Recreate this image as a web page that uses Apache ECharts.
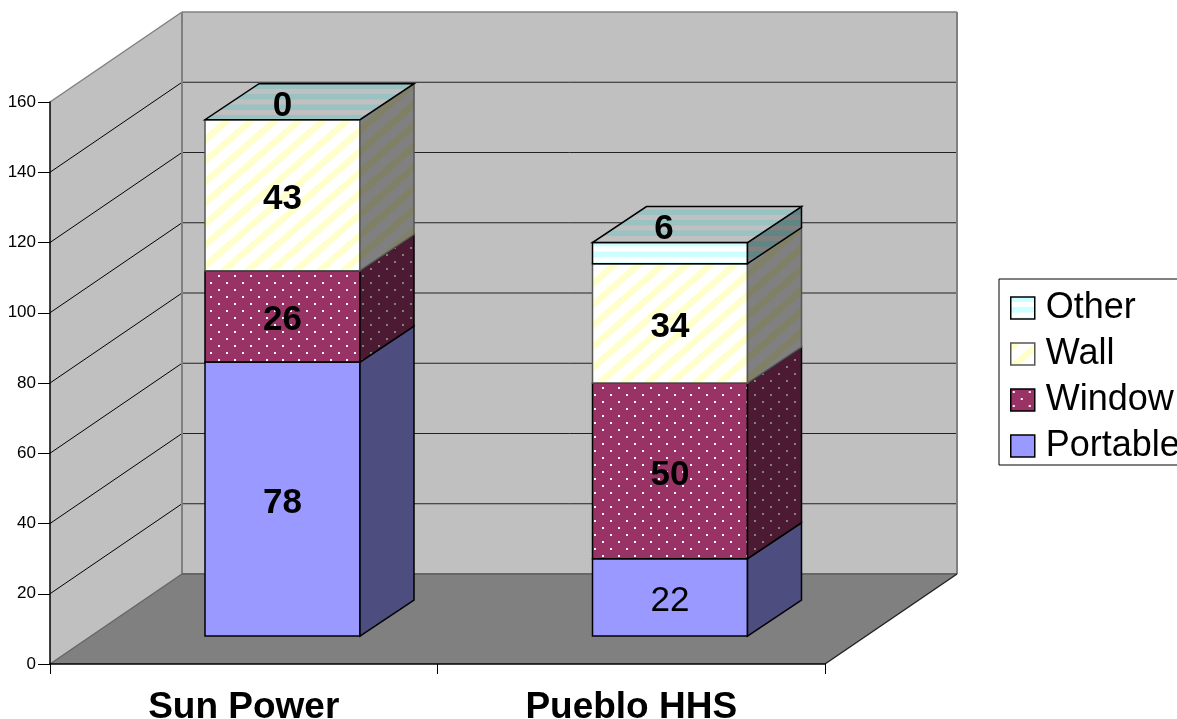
<!DOCTYPE html>
<html>
<head>
<meta charset="utf-8">
<script src="https://cdn.jsdelivr.net/npm/echarts@6/dist/echarts.min.js"></script>
<style>
  html, body { margin: 0; padding: 0; background: #fff; overflow: hidden; }
  #chart { width: 1177px; height: 719px; }
</style>
</head>
<body>
<div id="chart"></div>
<script>
// Survey counts per site, stacked from the floor upward.
const categories = ['Sun Power', 'Pueblo HHS'];
const portable = [78, 22];
const windowUnits = [26, 50];
const wall = [43, 34];
const other = [0, 6];
const legendOrder = ['Other', 'Wall', 'Window', 'Portable'];
const yMax = 160;
const yStep = 20;

// Oblique projection of the chart box and of each column inside it (pixels).
const BOX = { dx: 132, dy: -90 };
const BAR = { frontDx: 38.75, frontDy: -28, sideDx: 54, sideDy: -36, widthRatio: 0.4 };
const FONT = '"Liberation Sans", Arial, sans-serif';

function tile(w, h, paint) {
  const c = document.createElement('canvas');
  c.width = w; c.height = h;
  paint(c.getContext('2d'), w, h);
  return { image: c, repeat: 'repeat' };
}
function dots(bg, dot) {
  return tile(16, 14, (g, w, h) => {
    g.fillStyle = bg; g.fillRect(0, 0, w, h);
    g.fillStyle = dot;
    g.fillRect(2, 2, 2, 2);
    g.fillRect(10, 9, 2, 2);
  });
}
function diagonal(bg, stripe) {
  return tile(24, 21, (g, w, h) => {
    g.fillStyle = bg; g.fillRect(0, 0, w, h);
    g.fillStyle = stripe;
    for (const k of [-1, 0, 1]) {
      const ox = k * w;
      g.beginPath();
      g.moveTo(ox + 0, h);
      g.lineTo(ox + w, 0);
      g.lineTo(ox + w + 10, 0);
      g.lineTo(ox + 10, h);
      g.closePath();
      g.fill();
    }
  });
}
function bands(a, b) {
  return tile(8, 21, (g, w, h) => {
    g.fillStyle = a; g.fillRect(0, 0, w, h);
    g.fillStyle = b;
    g.fillRect(0, 5, w, 5);
    g.fillRect(0, 15.5, w, 5);
  });
}

const faces = {
  Portable: { front: '#9999FF', side: '#4D4D80', stroke: '#000' },
  Window: { front: dots('#993366', '#FFFFFF'), side: dots('#4D1A33', '#808080'), stroke: '#000' },
  Wall: { front: diagonal('#FFFFFF', '#FFFFCC'), side: diagonal('#808080', '#808066'), stroke: '#555' },
  Other: {
    front: bands('#CCFFFF', '#FFFFFF'),
    side: bands('#5F8585', '#808080'),
    top: bands('#99C2C2', '#C0C0C0'),
    stroke: '#000'
  }
};

// Cumulative [category, base, top] rows for one stacked layer.
function stackRows(layers, index) {
  return categories.map((_, c) => {
    let base = 0;
    for (let i = 0; i < index; i++) base += layers[i][c];
    return [c, base, base + layers[index][c]];
  });
}

function poly(points, fill, stroke, lineWidth) {
  return {
    type: 'polygon',
    shape: { points },
    style: { fill, stroke: stroke || 'none', lineWidth: lineWidth || 0 }
  };
}
function seg(a, b, stroke, lineWidth) {
  return {
    type: 'line',
    shape: { x1: a[0], y1: a[1], x2: b[0], y2: b[1] },
    style: { stroke, lineWidth }
  };
}

// Walls and floor of the box, plus the gridlines running across them.
function renderBox(params, api) {
  const cs = params.coordSys;
  const x0 = cs.x, x1 = cs.x + cs.width;
  const yb = api.coord([0, 0])[1], yt = api.coord([0, yMax])[1];
  const dx = BOX.dx, dy = BOX.dy;
  const children = [
    poly([[x0, yb], [x0 + dx, yb + dy], [x0 + dx, yt + dy], [x0, yt]], '#C0C0C0'),
    poly([[x0 + dx, yb + dy], [x1 + dx, yb + dy], [x1 + dx, yt + dy], [x0 + dx, yt + dy]], '#C0C0C0'),
    poly([[x0, yb], [x1, yb], [x1 + dx, yb + dy], [x0 + dx, yb + dy]], '#808080')
  ];
  for (let v = yStep; v < yMax; v += yStep) {
    const y = api.coord([0, v])[1];
    children.push(seg([x0, y], [x0 + dx, y + dy], '#000', 1));
    children.push(seg([x0 + dx, y + dy], [x1 + dx, y + dy], '#222', 1));
  }
  children.push(
    seg([x0, yt], [x0 + dx, yt + dy], '#808080', 1.5),
    seg([x0 + dx, yt + dy], [x1 + dx, yt + dy], '#808080', 1.5),
    seg([x0 + dx, yb + dy], [x0 + dx, yt + dy], '#808080', 2),
    seg([x1 + dx, yb + dy], [x1 + dx, yt + dy], '#808080', 2),
    seg([x0 + dx, yb + dy], [x1 + dx, yb + dy], '#666', 2),
    seg([x0, yb], [x0 + dx, yb + dy], '#666', 1.5),
    seg([x1, yb], [x1 + dx, yb + dy], '#222', 1.5)
  );
  return { type: 'group', children };
}

// One stacked segment: front and side faces, the cap on the top layer, and its value.
function renderSegment(name, isTopLayer) {
  return function (params, api) {
    const cat = api.value(0), base = api.value(1), top = api.value(2);
    const value = top - base;
    const w = api.size([1, 0])[0] * BAR.widthRatio;
    const pBase = api.coord([cat, base]);
    const pTop = api.coord([cat, top]);
    const cx = pBase[0] + BAR.frontDx;
    const xl = cx - w / 2, xr = cx + w / 2;
    const yb = pBase[1] + BAR.frontDy, yt = pTop[1] + BAR.frontDy;
    const sx = BAR.sideDx, sy = BAR.sideDy;
    const f = faces[name];
    const children = [];
    if (value > 0) {
      children.push(poly([[xl, yt], [xr, yt], [xr, yb], [xl, yb]], f.front, f.stroke, 1.5));
      children.push(poly([[xr, yt], [xr + sx, yt + sy], [xr + sx, yb + sy], [xr, yb]], f.side, f.stroke, 1.5));
    }
    if (isTopLayer) {
      children.push(poly([[xl, yt], [xr, yt], [xr + sx, yt + sy], [xl + sx, yt + sy]], f.top, '#000', 1.5));
    }
    const bold = !(name === 'Portable' && cat === 1);
    children.push({
      type: 'text',
      z2: 10,
      style: {
        text: String(value),
        x: isTopLayer ? cx - (cat === 1 ? 6 : 0) : cx,
        y: isTopLayer ? yt + sy / 2 + 5 : (yt + yb) / 2 + 4,
        align: 'center',
        verticalAlign: 'middle',
        font: (bold ? 'bold ' : '') + '35px ' + FONT,
        fill: '#000'
      }
    });
    return { type: 'group', children };
  };
}

const layers = [portable, windowUnits, wall, other];
const layerNames = ['Portable', 'Window', 'Wall', 'Other'];

const segmentSeries = layerNames.map((name, i) => ({
  type: 'custom',
  name,
  coordinateSystem: 'cartesian2d',
  z: 3 + i,
  silent: true,
  clip: false,
  encode: { x: 0, y: [1, 2] },
  data: stackRows(layers, i),
  renderItem: renderSegment(name, i === layers.length - 1)
}));

const chart = echarts.init(document.getElementById('chart'));
chart.setOption({
  animation: false,
  backgroundColor: '#fff',
  textStyle: { fontFamily: FONT },
  grid: { left: 50, right: 352, top: 102, bottom: 55, outerBoundsMode: 'none' },
  xAxis: {
    type: 'category',
    data: categories,
    z: 8,
    axisLine: { lineStyle: { color: '#000', width: 1.5 } },
    axisTick: { show: true, length: 10, lineStyle: { color: '#000', width: 1 } },
    axisLabel: { margin: 25, color: '#000', fontSize: 37, fontWeight: 'bold', fontFamily: FONT }
  },
  yAxis: {
    type: 'value',
    min: 0,
    max: yMax,
    interval: yStep,
    z: 8,
    splitLine: { show: false },
    axisLine: { show: true, lineStyle: { color: '#000', width: 1.5 } },
    axisTick: { show: true, length: 12, lineStyle: { color: '#000', width: 1 } },
    axisLabel: { margin: 14, color: '#000', fontSize: 17, fontFamily: FONT }
  },
  legend: {
    orient: 'vertical',
    left: 999,
    top: 279,
    padding: [11, 60, 1, 11],
    itemWidth: 24,
    itemHeight: 22,
    itemGap: 10,
    selectedMode: false,
    borderColor: '#000',
    borderWidth: 1,
    backgroundColor: '#fff',
    textStyle: { fontSize: 36, color: '#000', fontFamily: FONT, padding: [0, 0, 0, 6] },
    data: legendOrder.map(name => ({
      name,
      icon: 'rect',
      itemStyle: {
        color: faces[name].front,
        borderColor: faces[name].stroke,
        borderWidth: 1.5
      }
    }))
  },
  series: [
    {
      type: 'custom',
      coordinateSystem: 'cartesian2d',
      z: 1,
      silent: true,
      clip: false,
      encode: { x: 0, y: 1 },
      data: [[0, 0]],
      renderItem: renderBox
    },
    ...segmentSeries
  ]
});
</script>
</body>
</html>
